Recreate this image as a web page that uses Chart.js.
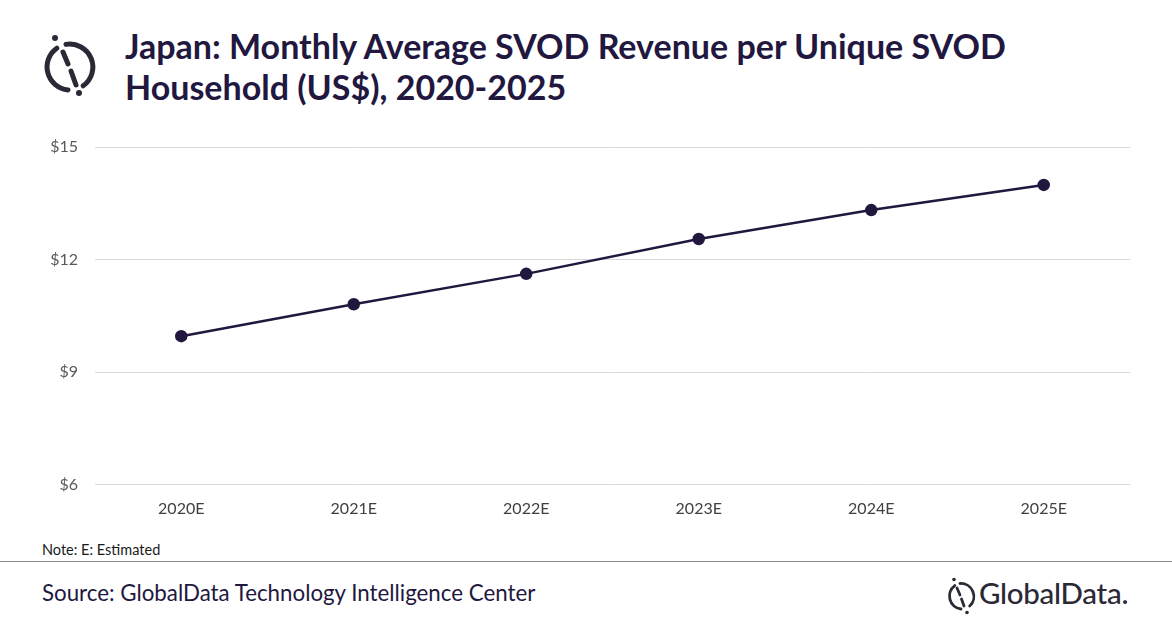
<!DOCTYPE html>
<html>
<head>
<meta charset="utf-8">
<script src="https://cdn.jsdelivr.net/npm/chart.js@4"></script>
<style>
  html, body { margin: 0; padding: 0; background: #fff; }
  body { width: 1172px; height: 628px; position: relative; overflow: hidden; font-family: Lato, "Noto Sans", sans-serif; }
  #title { position: absolute; left: 125px; top: 25px; font-weight: 700; font-size: 34px; line-height: 41px; color: #22183f; margin: 0; }
  #chart-box { position: absolute; left: 0; top: 120px; width: 1172px; height: 416px; }
  #note { position: absolute; left: 42px; top: 541px; font-size: 14.5px; color: #1a1a1a; }
  #rule { position: absolute; left: 0; top: 561px; width: 1172px; height: 0; border-top: 1px solid #8c8c8c; }
  #source { position: absolute; left: 42px; top: 579px; font-size: 22.3px; color: #22183f; }
  #brand { position: absolute; left: 979px; top: 575px; font-size: 29.5px; font-weight: 500; color: #2b2936; letter-spacing: -0.3px; }
  svg { position: absolute; }
</style>
</head>
<body>
<svg width="120" height="110" style="left:0;top:0" viewBox="0 0 120 110">
  <g fill="none" stroke="#2b2936" stroke-width="5" stroke-linecap="round">
    <path d="M66 44.4 A23 23 0 0 1 83.2 85.8" />
    <path d="M56.8 48.2 A23 23 0 0 0 68 89.9" />
    <path d="M63 52 L68 64" />
    <path d="M71 71 L76 85" />
  </g>
  <circle cx="55" cy="38" r="3" fill="#2b2936" />
  <circle cx="79" cy="93" r="3" fill="#2b2936" />
</svg>
<h1 id="title">Japan: Monthly Average SVOD Revenue per Unique SVOD<br>Household (US$), 2020-2025</h1>
<div id="chart-box"><canvas id="svod-chart"></canvas></div>
<div id="note">Note: E: Estimated</div>
<div id="rule"></div>
<div id="source">Source: GlobalData Technology Intelligence Center</div>
<svg width="40" height="44" style="left:940px;top:574px" viewBox="0 0 40 44">
  <g fill="none" stroke="#2b2936" stroke-width="2.8" stroke-linecap="round">
    <path d="M20 9.5 A13 13 0 0 1 29.7 32" />
    <path d="M14.8 11.6 A13 13 0 0 0 21 35" />
    <path d="M17 14 L20 21" />
    <path d="M21.5 25 L24 32" />
  </g>
  <circle cx="14" cy="5.5" r="1.8" fill="#2b2936" />
  <circle cx="27" cy="38.5" r="1.8" fill="#2b2936" />
</svg>
<div id="brand">GlobalData.</div>

<script>
// --- Данные графика ---
const years = ['2020E', '2021E', '2022E', '2023E', '2024E', '2025E'];
const revenuePerHousehold = [9.96, 10.81, 11.62, 12.55, 13.32, 13.99];
const yTicks = [6, 9, 12, 15];

const lineColor = '#22183f';

new Chart(document.getElementById('svod-chart'), {
    type: 'line',
    data: {
        labels: years,
        datasets: [{
            label: 'Monthly average SVOD revenue per unique SVOD household',
            data: revenuePerHousehold,
            borderColor: lineColor,
            backgroundColor: lineColor,
            borderWidth: 2.5,
            pointRadius: 5,
            pointHoverRadius: 5,
            tension: 0,
            fill: false
        }]
    },
    options: {
        responsive: true,
        maintainAspectRatio: false,
        animation: false,
        layout: { padding: { top: 27, right: 42, bottom: 12, left: 0 } },
        plugins: { legend: { display: false }, tooltip: { enabled: false } },
        scales: {
            x: {
                offset: true,
                grid: { display: false },
                border: { display: false },
                ticks: { color: '#404040', font: { family: 'Lato', size: 16 }, padding: 6 }
            },
            y: {
                min: yTicks[0],
                max: yTicks[yTicks.length - 1],
                afterBuildTicks: scale => { scale.ticks = yTicks.map(v => ({ value: v })); },
                afterFit: scale => { scale.width = 95; },
                grid: { color: '#d9d9d9', drawTicks: false },
                border: { display: false },
                ticks: { color: '#595959', font: { family: 'Lato', size: 16 }, padding: 17, callback: v => '$' + v }
            }
        }
    }
});
</script>
</body>
</html>
